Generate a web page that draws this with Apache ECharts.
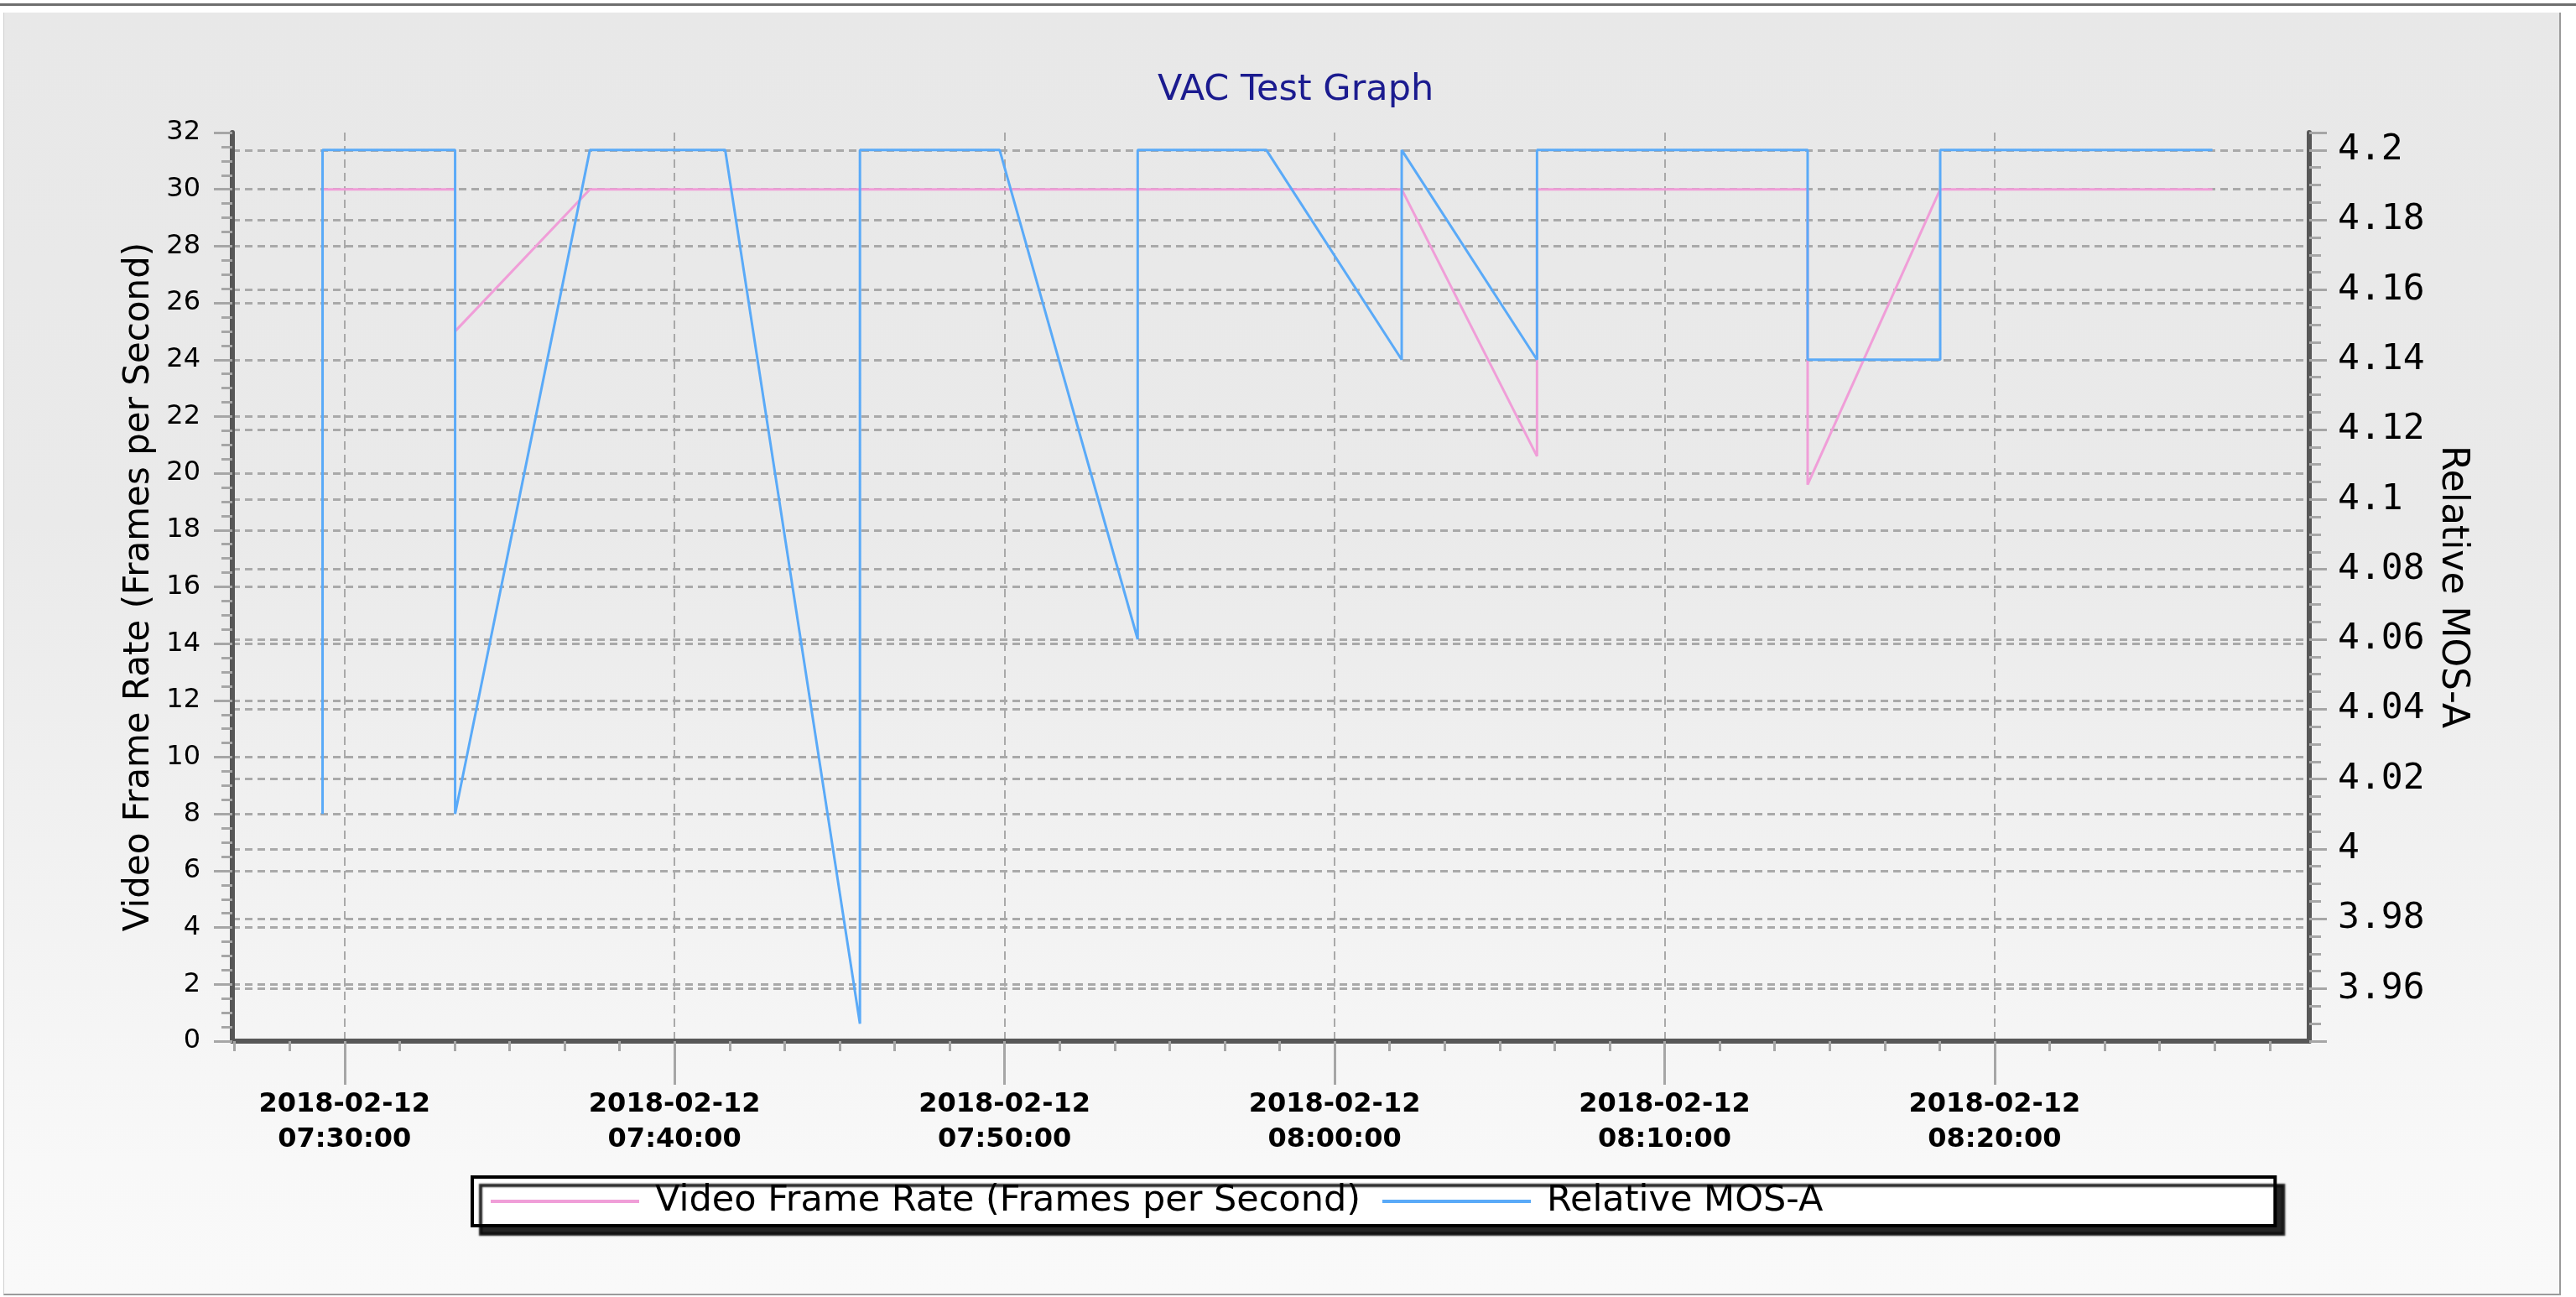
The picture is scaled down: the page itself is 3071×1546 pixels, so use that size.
<!DOCTYPE html>
<html>
<head>
<meta charset="utf-8">
<title>VAC Test Graph</title>
<script src="https://cdn.jsdelivr.net/npm/echarts@6/dist/echarts.min.js"></script>
<style>
  html, body { margin: 0; padding: 0; background: #fff; width: 3071px; height: 1546px; overflow: hidden; }
  .topline { position: absolute; left: 0; top: 4px; width: 3071px; height: 3px; background: #6e6e6e; }
  .chart { position: absolute; left: 4px; top: 15px; width: 3046px; height: 1527px;
           border-right: 2px solid #9a9a9a; border-bottom: 2px solid #9a9a9a; border-left: 1px solid #d0d0d0; }
</style>
</head>
<body>
<div class="topline"></div>
<div class="chart"></div>
<script>
// 数据：时间(HH:MM:SS) 和 数值
var fpsTimes = ['07:29:20', '07:33:21', '07:33:21', '07:37:26', '07:41:32', '07:45:37', '07:49:51', '07:54:02',
  '07:57:56', '08:02:02', '08:06:08', '08:06:08', '08:10:14', '08:14:20', '08:14:20', '08:18:21', '08:22:28', '08:26:36'];
var fpsValues = [30, 30, 25, 30, 30, 30, 30, 30, 30, 30, 20.6, 30, 30, 30, 19.6, 30, 30, 30];

var mosTimes = ['07:29:20', '07:29:20', '07:33:21', '07:33:21', '07:37:26', '07:41:32', '07:45:37', '07:45:37',
  '07:49:51', '07:54:02', '07:54:02', '07:57:56', '08:02:02', '08:02:02', '08:06:08', '08:06:08', '08:10:14',
  '08:14:20', '08:14:20', '08:18:21', '08:18:21', '08:22:28', '08:26:36'];
var mosValues = [4.01, 4.2, 4.2, 4.01, 4.2, 4.2, 3.95, 4.2, 4.2, 4.06, 4.2, 4.2, 4.14, 4.2, 4.14, 4.2, 4.2,
  4.2, 4.14, 4.14, 4.2, 4.2, 4.2];

var dateLabel = '2018-02-12';
var seriesNames = ['Video Frame Rate (Frames per Second)', 'Relative MOS-A'];
var xRange = ['07:26:36', '08:29:32'];   // 横轴范围
var xStepMinutes = 10;                   // 横轴主刻度间隔（分钟）
var fpsRange = [0, 32];
var mosRange = [3.945, 4.205];

// 时间字符串 -> 一天中的分钟数
function toMinutes(s) {
  var p = s.split(':');
  return (+p[0]) * 60 + (+p[1]) + (+p[2]) / 60;
}
function pad(n) {
  return (n < 10 ? '0' : '') + n;
}
function pairs(times, values) {
  return times.map(function (t, i) { return [toMinutes(t), values[i]]; });
}

(function () {
  //1、实例化对象
  var myChart = echarts.init(document.querySelector('.chart'));

  var gridDash = { color: '#a9a9a9', width: 3, type: [9, 6] };
  var axisDark = { color: '#575757', width: 6 };
  var font = 'DejaVu Sans';

  // 横轴主刻度（整 10 分钟），不包含两端
  var xMin = toMinutes(xRange[0]);
  var xMax = toMinutes(xRange[1]);
  var xTicks = [];
  for (var m = Math.ceil(xMin / xStepMinutes) * xStepMinutes; m < xMax; m += xStepMinutes) {
    xTicks.push(m);
  }

  //2、指定配置项和数据
  var option = {
    animation: false,
    backgroundColor: {
      type: 'linear', x: 0, y: 0, x2: 0, y2: 1,
      colorStops: [
        { offset: 0, color: '#e8e8e8' },
        { offset: 0.4, color: '#eaeaea' },
        { offset: 0.9, color: '#f8f8f8' },
        { offset: 1, color: '#f9f9f9' }
      ]
    },
    title: {
      text: 'VAC Test Graph',
      left: 1375,
      top: 71,
      padding: 0,
      textStyle: { color: '#1b1b8f', fontSize: 43, fontWeight: 'normal', fontFamily: font }
    },
    legend: {
      data: seriesNames,
      left: 558,
      top: 1388,
      orient: 'horizontal',
      selectedMode: false,
      icon: 'rect',
      itemWidth: 177,
      itemHeight: 4,
      itemGap: 26,
      padding: [6, 539, 6, 22],
      backgroundColor: '#fff',
      borderColor: '#000',
      borderWidth: 4,
      borderRadius: 0,
      shadowColor: 'rgba(0,0,0,0.85)',
      shadowBlur: 2,
      shadowOffsetX: 10,
      shadowOffsetY: 10,
      textStyle: { color: '#000', fontSize: 43, fontFamily: font, lineHeight: 46, padding: [0, 0, 0, 14] }
    },
    grid: {
      left: 272,
      top: 143,
      width: 2476,
      height: 1083,
      containLabel: false
    },
    xAxis: {
      type: 'value',
      min: xMin,
      max: xMax,
      splitNumber: 6,
      axisLine: { show: true, lineStyle: axisDark },
      axisTick: { show: true, customValues: xTicks, length: 52, lineStyle: { color: '#a6a6a6', width: 3 } },
      minorTick: { show: true, splitNumber: 6, length: 12, lineStyle: { color: '#a6a6a6', width: 3 } },
      splitLine: { show: true, showMinLine: true, showMaxLine: true, lineStyle: { color: '#a9a9a9', width: 2, type: [10, 6] } },
      axisLabel: {
        customValues: xTicks,
        margin: 55,
        showMinLabel: true,
        showMaxLabel: true,
        color: '#000',
        fontSize: 32,
        fontWeight: 'bold',
        fontFamily: font,
        lineHeight: 42,
        formatter: function (v) {
          var total = Math.round(v);
          return dateLabel + '\n' + pad(Math.floor(total / 60)) + ':' + pad(total % 60) + ':00';
        }
      }
    },
    yAxis: [
      {
        type: 'value',
        min: fpsRange[0],
        max: fpsRange[1],
        interval: 2,
        name: seriesNames[0],
        nameLocation: 'middle',
        nameGap: 88,
        nameTextStyle: { color: '#000', fontSize: 42, fontFamily: font },
        axisLine: { show: true, lineStyle: axisDark },
        axisTick: { show: true, length: 22, lineStyle: { color: '#a6a6a6', width: 3 } },
        minorTick: { show: true, splitNumber: 4, length: 13, lineStyle: { color: '#a6a6a6', width: 3 } },
        splitLine: { show: true, showMinLine: false, showMaxLine: false, lineStyle: gridDash },
        axisLabel: { margin: 38, color: '#000', fontSize: 32, fontFamily: font }
      },
      {
        type: 'value',
        position: 'right',
        min: mosRange[0],
        max: mosRange[1],
        splitNumber: 13,
        name: seriesNames[1],
        nameLocation: 'middle',
        nameRotate: -90,
        nameGap: 146,
        nameTextStyle: { color: '#000', fontSize: 44, fontFamily: font },
        axisLine: { show: true, lineStyle: axisDark },
        axisTick: { show: true, length: 21, lineStyle: { color: '#a6a6a6', width: 3 } },
        minorTick: { show: true, splitNumber: 4, length: 14, lineStyle: { color: '#a6a6a6', width: 3 } },
        splitLine: { show: true, showMinLine: false, showMaxLine: false, lineStyle: gridDash },
        axisLabel: {
          margin: 34,
          showMinLabel: false,
          showMaxLabel: false,
          color: '#000',
          fontSize: 43,
          fontFamily: 'DejaVu Sans Mono',
          formatter: function (v) { return String(+v.toFixed(3)); }
        }
      }
    ],
    series: [
      {
        name: seriesNames[0],
        type: 'line',
        yAxisIndex: 0,
        showSymbol: false,
        color: '#f09ed8',
        lineStyle: { color: '#f09ed8', width: 3 },
        data: pairs(fpsTimes, fpsValues)
      },
      {
        name: seriesNames[1],
        type: 'line',
        yAxisIndex: 1,
        showSymbol: false,
        color: '#5aaaf8',
        lineStyle: { color: '#5aaaf8', width: 3 },
        data: pairs(mosTimes, mosValues)
      }
    ]
  };

  //3、把配置项给实例对象
  myChart.setOption(option);

  //4、让图表跟随屏幕自动的去适应
  window.addEventListener('resize', function () {
    myChart.resize();
  });
})();
</script>
</body>
</html>
